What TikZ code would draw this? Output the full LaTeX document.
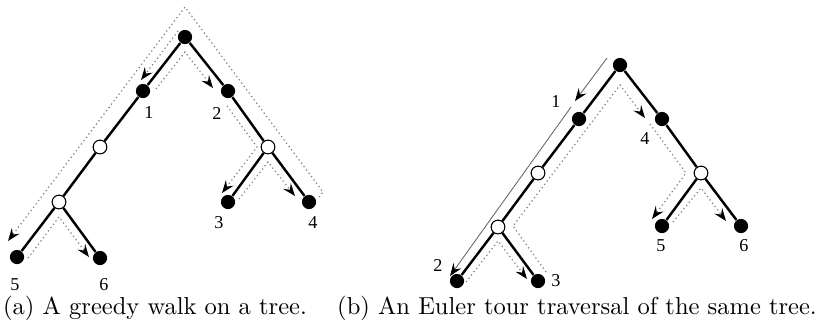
\documentclass[tikz,border=0pt]{standalone}
\usepackage{fontspec}
\newfontfamily\lblfont{Liberation Serif}
\usetikzlibrary{arrows.meta}
\begin{document}
\begin{tikzpicture}[x=0.408pt,y=-0.408pt,
  bnode/.style={circle,fill=black,inner sep=0pt,minimum size=5.8pt},
  onode/.style={circle,draw=black,fill=white,line width=0.45pt,inner sep=0pt,minimum size=5.6pt},
  treeedge/.style={line width=1pt,black},
  walkline/.style={black!50,line width=0.5pt,dash pattern=on 0.5pt off 1.2pt},
  tourline/.style={black!60,line width=0.35pt},
  arrowtip/.style={-{Stealth[length=5.2pt,width=3.9pt,inset=1.9pt,color=black]}},
  lbl/.style={font=\lblfont\fontsize{7.4}{8}\selectfont,inner sep=0pt},
  captext/.style={font=\fontsize{10}{12}\selectfont,inner sep=0pt}]
\useasboundingbox (0,0) rectangle (834,325);

% ---------- left tree ----------
\node[bnode] (a0) at (185,37) {};
\node[bnode] (a1) at (143,91) {};
\node[bnode] (a2) at (228,91) {};
\node[onode] (a3) at (100,147) {};
\node[onode] (a4) at (268,147) {};
\node[onode] (a5) at (59,202) {};
\node[bnode] (a6) at (228,202) {};
\node[bnode] (a7) at (309,202) {};
\node[bnode] (a8) at (17,257) {};
\node[bnode] (a9) at (100,258) {};
\draw[treeedge] (a0) -- (a1);
\draw[treeedge] (a1) -- (a3);
\draw[treeedge] (a3) -- (a5);
\draw[treeedge] (a5) -- (a8);
\draw[treeedge] (a5) -- (a9);
\draw[treeedge] (a0) -- (a2);
\draw[treeedge] (a2) -- (a4);
\draw[treeedge] (a4) -- (a6);
\draw[treeedge] (a4) -- (a7);

\coordinate (w1) at (319,197);
\coordinate (w2) at (323,192);
\coordinate (w3) at (185,7);
\coordinate (w4) at (8,241);
\draw[walkline,arrowtip] (w1) -- (w2) -- (w3) -- (w4);
\coordinate (w5) at (178,31);
\coordinate (w6) at (141,80);
\draw[walkline,arrowtip] (w5) -- (w6);
\coordinate (w7) at (156,89);
\coordinate (w8) at (185,52);
\coordinate (w9) at (213,88);
\draw[walkline,arrowtip] (w7) -- (w8) -- (w9);
\coordinate (w10) at (227,106);
\coordinate (w11) at (257,147);
\coordinate (w12) at (222,193);
\draw[walkline,arrowtip] (w10) -- (w11) -- (w12);
\coordinate (w13) at (239,199);
\coordinate (w14) at (268,162);
\coordinate (w15) at (295,196);
\draw[walkline,arrowtip] (w13) -- (w14) -- (w15);
\coordinate (w16) at (28,258);
\coordinate (w17) at (59,217);
\coordinate (w18) at (89,257);
\draw[walkline,arrowtip] (w16) -- (w17) -- (w18);

\node[lbl] (la1) at (149,113) {1};
\node[lbl] (la2) at (217,113) {2};
\node[lbl] (la3) at (219,223) {3};
\node[lbl] (la4) at (313,223) {4};
\node[lbl] (la5) at (15,285) {5};
\node[lbl] (la6) at (104,285) {6};

% ---------- right tree ----------
\node[bnode] (b0) at (620,65) {};
\node[bnode] (b1) at (579,119) {};
\node[bnode] (b2) at (662,119) {};
\node[onode] (b3) at (538,173) {};
\node[onode] (b4) at (701,173) {};
\node[onode] (b5) at (498,227) {};
\node[bnode] (b6) at (662,226) {};
\node[bnode] (b7) at (741,226) {};
\node[bnode] (b8) at (457,281) {};
\node[bnode] (b9) at (538,281) {};
\draw[treeedge] (b0) -- (b1);
\draw[treeedge] (b1) -- (b3);
\draw[treeedge] (b3) -- (b5);
\draw[treeedge] (b5) -- (b8);
\draw[treeedge] (b5) -- (b9);
\draw[treeedge] (b0) -- (b2);
\draw[treeedge] (b2) -- (b4);
\draw[treeedge] (b4) -- (b6);
\draw[treeedge] (b4) -- (b7);

\coordinate (t1) at (607,58);
\coordinate (t2) at (575,101);
\coordinate (t3) at (571,107);
\coordinate (t4) at (450,276);
\draw[tourline,arrowtip] (t1) -- (t2);
\draw[tourline,arrowtip] (t3) -- (t4);

\coordinate (e1) at (546,272);
\coordinate (e2) at (513,226);
\coordinate (e3) at (620,85);
\coordinate (e4) at (645,118);
\draw[walkline,arrowtip] (e1) -- (e2) -- (e3) -- (e4);
\coordinate (e5) at (650,124);
\coordinate (e6) at (686,173);
\coordinate (e7) at (652,219);
\draw[walkline,arrowtip] (e5) -- (e6) -- (e7);
\coordinate (e8) at (673,222);
\coordinate (e9) at (701,188);
\coordinate (e10) at (726,221);
\draw[walkline,arrowtip] (e8) -- (e9) -- (e10);
\coordinate (e11) at (466,282);
\coordinate (e12) at (498,241);
\coordinate (e13) at (527,279);
\draw[walkline,arrowtip] (e11) -- (e12) -- (e13);

\node[lbl] (lb1) at (556,102) {1};
\node[lbl] (lb2) at (438,265) {2};
\node[lbl] (lb3) at (556,281) {3};
\node[lbl] (lb4) at (645,139) {4};
\node[lbl] (lb5) at (661,246) {5};
\node[lbl] (lb6) at (744,246) {6};

% ---------- captions ----------
\node[captext] (capa) at (155,308) {(a) A greedy walk on a tree.};
\node[captext] (capb) at (577,308) {(b) An Euler tour traversal of the same tree.};
\end{tikzpicture}
\end{document}
